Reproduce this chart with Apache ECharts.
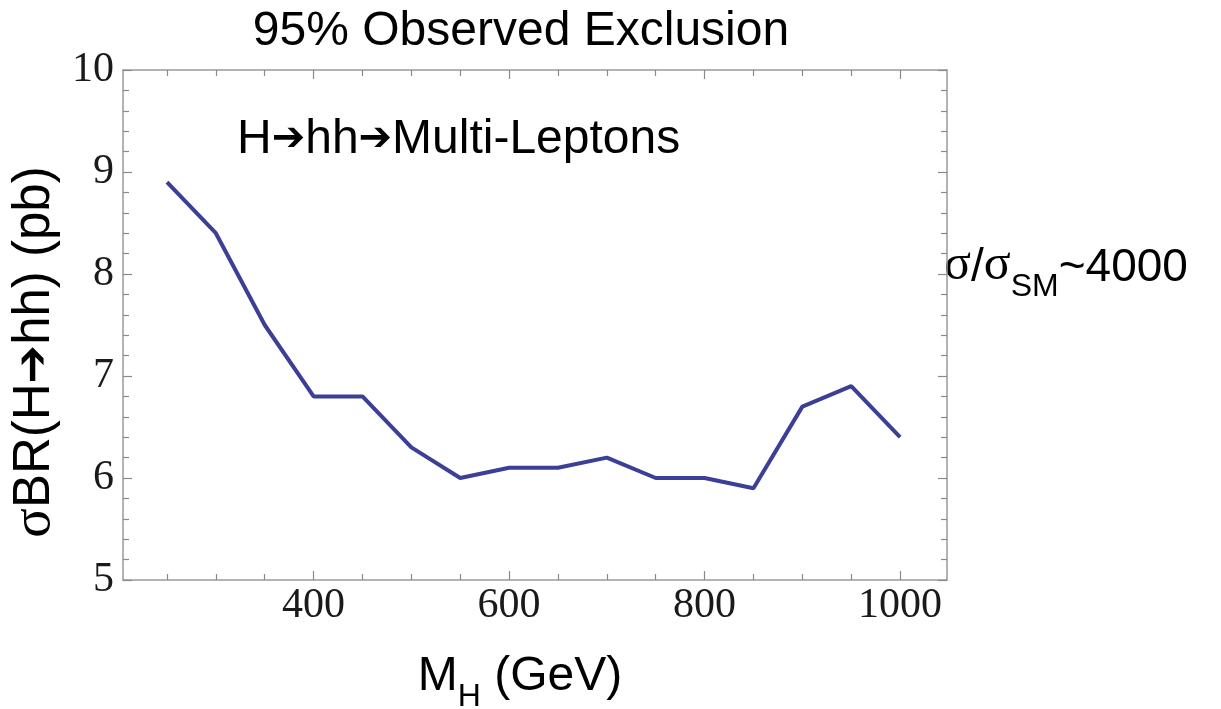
<!DOCTYPE html>
<html>
<head>
<meta charset="utf-8">
<script src="https://cdn.jsdelivr.net/npm/echarts@6/dist/echarts.min.js"></script>
<style>
html,body{margin:0;padding:0;background:#fff;}
#chart{width:1221px;height:709px;}
</style>
</head>
<body>
<div id="chart"></div>
<script>
// Data
const massGeV = [250, 300, 350, 400, 450, 500, 550, 600, 650, 700, 750, 800, 850, 900, 950, 1000];
const sigmaBR = [8.9, 8.4, 7.5, 6.8, 6.8, 6.3, 6.0, 6.1, 6.1, 6.2, 6.0, 6.0, 5.9, 6.7, 6.9, 6.4];
const xMajorTicks = [400, 600, 800, 1000];
const xMinorTicks = [250, 300, 350, 450, 500, 550, 650, 700, 750, 850, 900, 950];
const yTickLabels = [5, 6, 7, 8, 9, 10];

const xMin = 205, xMax = 1048, yMin = 5, yMax = 10;
const frameColor = '#9a9a9a';
const tickColor = '#8a8a8a';
const sans = "'Liberation Sans', Arial, sans-serif";
const serif = "'Liberation Serif', 'Times New Roman', serif";
const dv = "'DejaVu Sans', sans-serif";

function xAx(pos, ticks, len, showLine, labels) {
  return {
    type: 'value', position: pos, min: xMin, max: xMax,
    axisLine: {show: showLine, onZero: false, lineStyle: {color: frameColor, width: 1.5}},
    axisTick: {show: true, inside: true, length: len, customValues: ticks, lineStyle: {color: tickColor, width: 1.2}},
    axisLabel: labels ? {show: true, customValues: labels, formatter: v => String(v), fontFamily: serif, fontSize: 42, color: '#1a1a1a', margin: 5} : {show: false},
    splitLine: {show: false}
  };
}
function yAx(pos, showLabels) {
  return {
    type: 'value', position: pos, min: yMin, max: yMax, interval: 1,
    axisLine: {show: true, onZero: false, lineStyle: {color: frameColor, width: 1.5}},
    axisTick: {show: true, inside: true, length: 9, lineStyle: {color: tickColor, width: 1.2}},
    minorTick: {show: true, splitNumber: 5, length: 6, lineStyle: {color: tickColor, width: 1.2}},
    axisLabel: showLabels ? {show: true, customValues: yTickLabels, formatter: v => String(v), fontFamily: serif, fontSize: 42, color: '#1a1a1a', margin: 9} : {show: false},
    splitLine: {show: false}
  };
}

const chart = echarts.init(document.getElementById('chart'));
chart.setOption({
  backgroundColor: '#fff',
  animation: false,
  grid: {left: 123, right: 274, top: 70, bottom: 129},
  xAxis: [
    xAx('bottom', xMajorTicks, 9, true, xMajorTicks),
    xAx('bottom', xMinorTicks, 6, false, null),
    xAx('top', xMajorTicks, 9, true, null),
    xAx('top', xMinorTicks, 6, false, null)
  ],
  yAxis: [yAx('left', true), yAx('right', false)],
  series: [{
    type: 'line',
    xAxisIndex: 0, yAxisIndex: 0,
    data: massGeV.map((m, i) => [m, sigmaBR[i]]),
    showSymbol: false,
    lineStyle: {color: '#3b3f96', width: 4},
    itemStyle: {color: '#3b3f96'}
  }],
  graphic: [
    {type: 'text', x: 521, y: 32, style: {text: '95% Observed Exclusion', fontFamily: sans, fontSize: 48, fill: '#000', align: 'center', verticalAlign: 'middle'}},
    {type: 'text', x: 237, y: 140, style: {
      text: '{a|H}{r|➔}{a|hh}{r|➔}{a|Multi-Leptons}', verticalAlign: 'middle', align: 'left',
      rich: {a: {fontFamily: sans, fontSize: 48, fill: '#000'}, r: {fontFamily: dv, fontSize: 40, fill: '#000'}}
    }},
    {type: 'text', x: 944, y: 272, style: {
      text: '{g|σ}{a|/}{g|σ}{s|SM}{a|~4000}', verticalAlign: 'middle', align: 'left',
      rich: {
        g: {fontFamily: serif, fontSize: 50, fill: '#000', verticalAlign: 'bottom', padding: [0, 0, 12, 0]},
        a: {fontFamily: sans, fontSize: 46, fill: '#000', verticalAlign: 'bottom', padding: [0, 0, 12, 0]},
        s: {fontFamily: sans, fontSize: 32, fill: '#000', verticalAlign: 'bottom'}
      }
    }},
    {type: 'text', x: 520, y: 683, style: {
      text: '{a|M}{s|H}{a| (GeV)}', verticalAlign: 'middle', align: 'center',
      rich: {
        a: {fontFamily: sans, fontSize: 48, fill: '#000', verticalAlign: 'bottom', padding: [0, 0, 12, 0]},
        s: {fontFamily: sans, fontSize: 32, fill: '#000', verticalAlign: 'bottom'}
      }
    }},
    {type: 'text', x: 35, y: 352, rotation: Math.PI / 2, style: {
      text: '{g|σ}{a|BR(H}{r|➔}{a|hh) (pb)}', verticalAlign: 'middle', align: 'center',
      rich: {g: {fontFamily: serif, fontSize: 55, fill: '#000'}, a: {fontFamily: sans, fontSize: 51, fill: '#000'}, r: {fontFamily: dv, fontSize: 46, fill: '#000'}}
    }}
  ]
});
</script>
</body>
</html>
